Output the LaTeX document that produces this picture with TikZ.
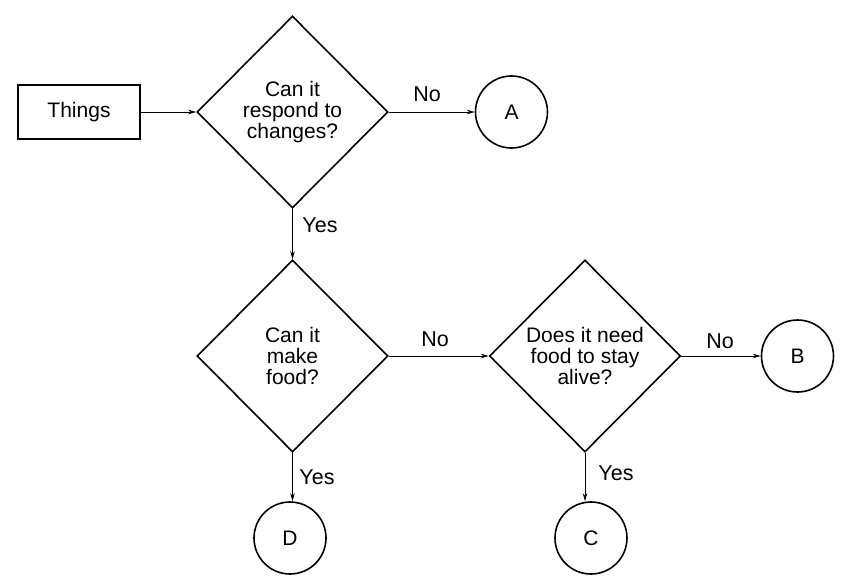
\documentclass[tikz,border=0pt]{standalone}
\usepackage{fontspec}
\setmainfont{Liberation Sans}
\usetikzlibrary{shapes.geometric,arrows.meta}
\begin{document}
\begin{tikzpicture}[x=1pt,y=-1pt,
  txt/.style={font=\fontsize{21}{21}\selectfont, align=center},
  boxnode/.style={draw, line width=1.6pt, minimum width=122pt, minimum height=54pt, inner sep=0pt, txt},
  decision/.style={draw, diamond, line width=1.6pt, minimum width=191pt, minimum height=192pt, inner sep=0pt, txt},
  endpoint/.style={draw, circle, line width=1.6pt, minimum size=72pt, inner sep=0pt, txt},
  conn/.style={line width=0.8pt, -{Stealth[length=8pt,width=4.5pt]}},
  lbl/.style={font=\fontsize{21.5}{21.5}\selectfont, inner sep=0pt}
]
\useasboundingbox (0,0) rectangle (849,586);
\node[boxnode] (things) at (79,112) {Things};
\node[decision] (d1) at (292.5,112) {Can it\\respond to\\changes?};
\node[endpoint] (A) at (511.5,112) {A};
\node[decision] (d2) at (292.5,356) {Can it\\make\\food?};
\node[decision] (d3) at (585,356) {Does it need\\food to stay\\alive?};
\node[endpoint] (B) at (797.5,356) {B};
\node[endpoint] (D) at (290,538) {D};
\node[endpoint] (C) at (591,538) {C};

\draw[conn] (things.east) -- (d1.west);
\draw[conn] (d1.east) -- (A.west);
\draw[conn] (d1.south) -- (d2.north);
\draw[conn] (d2.east) -- (d3.west);
\draw[conn] (d3.east) -- (B.west);
\draw[conn] (d2.south) -- (d2.south |- D.north);
\draw[conn] (d3.south) -- (d3.south |- C.north);

\node[lbl] (l1) at (427,94) {No};
\node[lbl] (l2) at (320,225) {Yes};
\node[lbl] (l3) at (435,339) {No};
\node[lbl] (l4) at (720,341) {No};
\node[lbl] (l5) at (317,477) {Yes};
\node[lbl] (l6) at (616,473) {Yes};
\end{tikzpicture}
\end{document}
